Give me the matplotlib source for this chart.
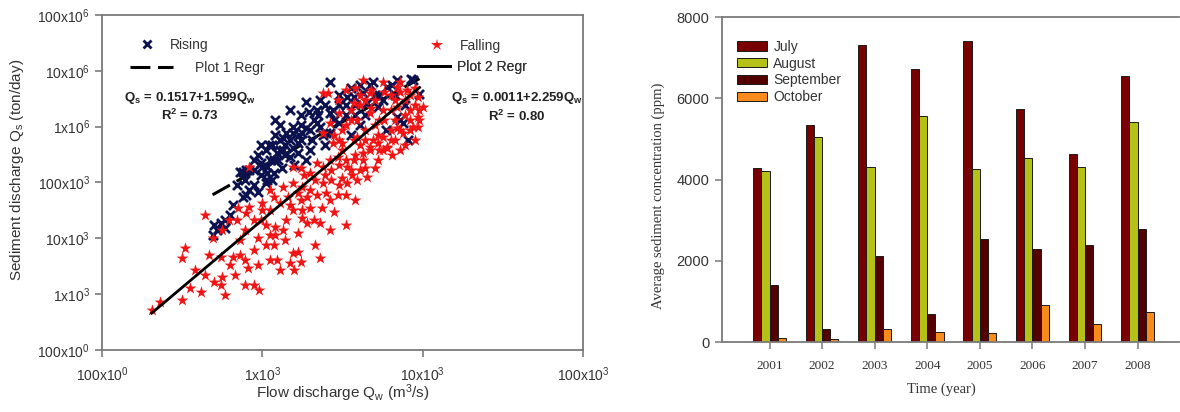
"""Sediment rating curve (rising vs falling limb) and monthly sediment concentration bars."""
import numpy as np
import matplotlib

matplotlib.use("Agg")
import matplotlib.pyplot as plt
from matplotlib.lines import Line2D

plt.rcParams.update({
    "font.family": "Liberation Sans",
    "mathtext.fontset": "custom",
    "mathtext.rm": "Liberation Sans",
    "mathtext.it": "Liberation Sans:italic",
    "mathtext.bf": "Liberation Sans:bold",
})

# --- left panel: log10 of flow discharge (m3/s) and sediment discharge (ton/day) ---
rising_logq = [2.70, 2.69, 2.74, 2.77, 2.88, 2.92, 2.90, 2.86, 2.90, 2.99, 3.03, 3.05, 3.07, 3.03,
               3.02, 3.09, 3.13, 3.17, 3.22, 3.25, 3.30, 3.19, 3.38, 3.42, 3.42, 3.27, 3.69, 3.94,
               3.78, 3.19, 3.32, 3.44, 3.57, 3.65, 3.86, 3.15, 3.24, 3.34, 3.42, 3.53, 3.63, 3.22,
               3.11, 3.07, 3.00, 2.92, 2.88, 3.03, 3.48, 3.40, 3.34, 3.72, 3.84, 3.88, 3.81, 3.93,
               3.11, 3.14, 3.17, 3.24, 3.30, 3.36, 3.11, 3.08, 3.04, 2.97, 2.95, 2.99, 3.06, 3.12,
               3.20, 3.27, 3.52, 3.58, 3.61, 3.55, 3.70, 3.75, 3.83, 3.89, 3.77, 3.91, 2.82, 2.84,
               2.95, 3.36, 3.48, 3.61, 3.98,
               3.02, 3.06, 3.10, 3.14, 3.19, 3.23, 3.27, 3.31, 3.35, 3.39, 3.45, 3.52, 3.58, 3.39,
               3.24, 3.17, 3.13, 2.99, 2.95, 3.08, 3.29, 3.48, 3.64, 3.73, 3.84, 3.67, 3.55, 2.80,
               2.77, 2.72, 2.97, 2.89]
rising_logs = [4.24, 4.06, 4.28, 4.19, 4.74, 4.87, 4.78, 5.19, 5.23, 5.35, 5.28, 5.41, 5.17, 5.05,
               4.99, 5.53, 5.58, 5.46, 5.71, 5.89, 5.58, 5.89, 5.85, 5.89, 6.80, 6.44, 6.80, 6.84,
               6.71, 6.00, 6.12, 6.30, 6.53, 6.43, 6.12, 5.89, 5.76, 6.30, 6.25, 6.53, 6.61, 5.53,
               5.58, 5.41, 5.28, 5.23, 5.19, 5.17, 6.07, 5.89, 6.07, 6.35, 6.18, 6.07, 6.75, 6.86,
               5.76, 5.68, 5.76, 6.03, 5.94, 6.00, 6.03, 5.85, 5.67, 5.50, 5.41, 5.14, 5.05, 5.26,
               5.32, 5.41, 6.39, 6.21, 6.03, 5.85, 6.57, 6.48, 6.57, 6.39, 5.94, 5.76, 4.60, 4.96,
               4.96, 6.48, 6.57, 6.75, 6.58,
               5.58, 5.67, 5.41, 5.50, 5.62, 5.85, 5.98, 5.76, 6.21, 6.39, 6.12, 6.21, 6.39, 5.67,
               6.21, 6.30, 5.80, 5.67, 5.23, 6.12, 6.26, 6.39, 6.21, 6.57, 6.84, 6.75, 6.70, 4.42,
               4.33, 4.15, 4.83, 5.05]

falling_logq = [2.31, 2.36, 2.50, 2.50, 2.52, 2.64, 2.62, 2.64, 2.70, 2.74, 2.75, 2.80, 2.82, 2.86,
                2.91, 2.97, 3.05, 3.09, 3.19, 3.22, 3.36, 2.74, 2.69, 2.75, 2.79, 2.84, 2.85, 2.92,
                2.97, 3.00, 3.07, 3.08, 3.08, 3.13, 3.22, 3.15, 3.19, 3.25, 3.28, 3.32, 3.36, 3.25,
                3.30, 3.37, 3.45, 3.11, 3.16, 3.22, 3.28, 3.34, 3.40, 3.47, 3.38, 3.43, 3.50, 3.53,
                3.59, 3.65, 3.56, 3.25, 3.19, 3.13, 3.07, 3.00, 2.99, 2.90, 3.34, 3.30, 3.38, 3.42,
                3.47, 3.53, 3.57, 3.63, 3.67, 3.72, 3.78, 3.75, 3.59, 3.50, 3.44, 3.19, 3.97, 4.00,
                3.97, 3.94, 3.78, 3.86, 3.92, 3.41, 3.47, 3.57, 3.67, 3.84, 3.90, 3.98, 3.97, 3.88,
                3.80, 3.69, 3.67, 3.57, 3.50, 3.59, 3.67, 3.75, 3.84, 3.48, 3.42, 3.38, 3.50, 3.63,
                3.75, 3.38, 3.63, 3.75, 3.86, 3.55, 3.61, 3.70, 3.80, 3.89, 3.83, 3.73, 3.64, 3.70,
                3.80, 3.92, 3.95, 3.52, 3.58, 3.48, 3.61, 3.83, 3.89, 3.81, 3.72, 3.64, 3.55, 3.48,
                2.95, 2.89, 2.98, 3.17, 3.24, 3.20, 3.14, 3.05, 3.02, 2.89, 2.95, 3.42, 3.52, 3.24,
                2.55, 2.92, 3.05,
                3.61, 3.68, 3.76, 3.86, 3.92, 3.83, 3.89, 3.95, 3.98, 3.92, 3.84, 3.76, 3.68, 3.64,
                3.55, 3.52, 3.45, 3.64, 3.72, 3.80, 3.86, 3.95, 3.73, 3.58, 3.52, 3.61, 3.70, 3.43,
                3.39, 3.33, 3.26, 3.24, 3.48, 3.30, 3.17, 3.05, 2.95, 3.02, 2.86, 2.83, 2.89, 2.67,
                2.58, 3.33, 3.42, 3.52, 3.58, 3.11, 2.77]
falling_logs = [2.72, 2.86, 2.90, 3.65, 3.83, 4.42, 3.04, 3.34, 3.22, 3.16, 3.31, 3.52, 3.67, 3.70,
                3.47, 3.52, 3.61, 3.61, 3.74, 3.76, 3.65, 3.67, 4.01, 4.15, 4.33, 4.33, 4.54, 4.56,
                4.01, 4.63, 3.88, 4.06, 4.20, 4.15, 4.10, 4.33, 4.51, 4.37, 4.28, 4.33, 4.28, 4.51,
                4.54, 4.54, 4.47, 4.63, 4.74, 4.81, 4.74, 4.78, 4.81, 4.78, 4.99, 5.05, 5.08, 4.99,
                5.05, 5.10, 5.14, 4.92, 4.99, 4.92, 4.74, 4.51, 4.33, 4.46, 5.35, 5.17, 5.28, 5.41,
                5.46, 5.28, 5.41, 5.53, 5.64, 5.71, 5.64, 5.82, 5.82, 5.71, 5.71, 5.28, 6.53, 6.35,
                6.18, 6.00, 5.62, 5.94, 6.12, 6.61, 6.48, 6.43, 6.61, 6.71, 6.66, 6.30, 6.00, 5.89,
                5.94, 5.76, 5.58, 5.76, 5.94, 6.12, 6.25, 6.30, 6.35, 6.25, 6.07, 5.89, 5.58, 5.41,
                5.58, 6.61, 6.84, 6.80, 6.80, 6.12, 6.39, 6.48, 6.57, 6.48, 6.12, 6.12, 5.94, 6.03,
                6.30, 6.30, 6.70, 6.66, 6.70, 5.76, 5.68, 5.76, 5.67, 5.50, 5.41, 5.26, 5.23, 5.32,
                3.16, 3.16, 3.08, 3.56, 3.58, 3.43, 3.97, 4.06, 4.24, 4.15, 4.33, 4.69, 4.78, 4.69,
                3.11, 5.28, 4.87,
                6.57, 6.66, 6.62, 6.62, 6.57, 6.48, 6.21, 6.39, 6.12, 5.94, 5.98, 6.12, 6.34, 6.48,
                6.30, 6.03, 5.85, 5.76, 5.85, 5.76, 5.58, 5.76, 5.58, 5.50, 5.41, 5.23, 5.26, 5.23,
                5.14, 5.05, 5.14, 5.26, 4.96, 4.87, 4.60, 4.51, 3.79, 3.88, 3.97, 3.34, 3.61, 3.70,
                3.43, 3.88, 4.15, 4.24, 4.69, 3.43, 2.99]

# regression lines (end points, log10 units)
reg1_logq, reg1_logs = [2.69, 3.98], [4.78, 6.86]
reg2_logq, reg2_logs = [2.31, 3.98], [2.66, 6.70]

x_ticks = [1e2, 1e3, 1e4, 1e5]
x_ticklabels = ["100x10$^0$", "1x10$^3$", "10x10$^3$", "100x10$^3$"]
y_ticks = [1e2, 1e3, 1e4, 1e5, 1e6, 1e7, 1e8]
y_ticklabels = ["100x10$^0$", "1x10$^3$", "10x10$^3$", "100x10$^3$", "1x10$^6$", "10x10$^6$",
                "100x10$^6$"]

# --- right panel: average sediment concentration (ppm) ---
years = [2001, 2002, 2003, 2004, 2005, 2006, 2007, 2008]
months = ["July", "August", "September", "October"]
july = [4280, 5330, 7300, 6720, 7410, 5730, 4630, 6560]
august = [4200, 5045, 4320, 5560, 4265, 4540, 4305, 5415]
september = [1395, 330, 2125, 695, 2525, 2300, 2380, 2790]
october = [110, 75, 320, 240, 220, 900, 450, 740]

NAVY = "#0c1250"
RED = "#f21414"
SPINE = "#7a7a7a"
TXT = "#333333"
BAR_COLORS = ["#780000", "#b6c118", "#540000", "#f98a1c"]

fig = plt.figure(figsize=(11.8, 4.12), dpi=100)

# ================= left: rating curve =================
ax = fig.add_axes([0.0864, 0.1505, 0.4077, 0.8131])
ax.set_xscale("log")
ax.set_yscale("log")

ax.plot(10 ** np.array(reg1_logq), 10 ** np.array(reg1_logs), color="black", lw=2.2,
        linestyle=(0, (6.5, 2.5)), zorder=1)
ax.scatter(10 ** np.array(rising_logq), 10 ** np.array(rising_logs), marker="x", s=42,
           linewidths=2.0, color=NAVY, zorder=2)
ax.scatter(10 ** np.array(falling_logq), 10 ** np.array(falling_logs), marker="*", s=80,
           linewidths=0, color=RED, zorder=3)
ax.plot(10 ** np.array(reg2_logq), 10 ** np.array(reg2_logs), color="black", lw=2.0, zorder=4)

ax.set_xlim(1e2, 1e5)
ax.set_ylim(1e2, 1e8)
ax.set_xticks(x_ticks)
ax.set_xticklabels(x_ticklabels)
ax.set_yticks(y_ticks)
ax.set_yticklabels(y_ticklabels)
ax.minorticks_off()
ax.tick_params(axis="both", length=5, width=1.2, color=SPINE, labelsize=10, labelcolor=TXT)
ax.tick_params(axis="x", pad=6)
ax.tick_params(axis="y", pad=3.5)
for sp in ax.spines.values():
    sp.set_color(SPINE)
    sp.set_linewidth(1.3)

ax.set_xlabel("Flow discharge Q$_\\mathrm{w}$ (m$^\\mathrm{3}$/s)", fontsize=11, color=TXT)
ax.set_ylabel("Sediment discharge Q$_\\mathrm{s}$ (ton/day)", fontsize=11, color=TXT)
ax.xaxis.set_label_coords(0.5, -0.098)
ax.yaxis.set_label_coords(-0.158, 0.537)

# four single-entry legends, placed where the original puts them
legend_items = [
    (Line2D([], [], marker="x", ls="none", color=NAVY, ms=6, mew=2.0), "Rising", 1.5, 0.9, 0.072, 0.910),
    (Line2D([], [], color="black", lw=2.2, ls=(0, (6.5, 2.5))), "Plot 1 Regr", 3.1, 1.6, 0.058, 0.842),
    (Line2D([], [], marker="*", ls="none", color=RED, ms=9, mew=0), "Falling", 1.5, 0.9, 0.675, 0.907),
    (Line2D([], [], color="black", lw=2.0), "Plot 2 Regr", 2.3, 0.5, 0.657, 0.845),
]
for handle, label, hlen, hpad, bx, by in legend_items:
    leg = ax.legend([handle], [label], loc="center left", bbox_to_anchor=(bx, by),
                    bbox_transform=ax.transAxes, frameon=False, fontsize=10, borderpad=0,
                    borderaxespad=0, handlelength=hlen, handletextpad=hpad)
    for t in leg.get_texts():
        t.set_color(TXT)
    ax.add_artist(leg)

eq_kw = dict(transform=ax.transAxes, ha="center", va="center", fontsize=9.5,
             fontweight="bold", color="#222222")
ax.text(0.183, 0.752, "Q$_\\mathbf{s}$ = 0.1517+1.599Q$_\\mathbf{w}$", **eq_kw)
ax.text(0.183, 0.699, "R$^\\mathbf{2}$ = 0.73", **eq_kw)
ax.text(0.863, 0.752, "Q$_\\mathbf{s}$ = 0.0011+2.259Q$_\\mathbf{w}$", **eq_kw)
ax.text(0.863, 0.696, "R$^\\mathbf{2}$ = 0.80", **eq_kw)

# ================= right: grouped bars =================
bx_ax = fig.add_axes([0.6119, 0.1699, 0.3873, 0.7888])
x = np.array(years, dtype=float)
w = 0.156
for i, (vals, col, name) in enumerate(zip([july, august, september, october], BAR_COLORS, months)):
    bx_ax.bar(x + (i - 1.5) * w, vals, width=w, color=col, edgecolor="#1a1a1a", linewidth=0.7,
              label=name)

bx_ax.set_xlim(2000.097, 2008.79)
bx_ax.set_ylim(0, 8000)
bx_ax.set_xticks(years)
bx_ax.set_xticklabels([str(y) for y in years], fontfamily="Liberation Serif", fontsize=9.5)
bx_ax.set_yticks([0, 2000, 4000, 6000, 8000])
bx_ax.tick_params(axis="both", length=5, width=1.1, color=SPINE, labelcolor=TXT)
bx_ax.tick_params(axis="y", labelsize=10.5, pad=4)
bx_ax.tick_params(axis="x", pad=8)
for sp in bx_ax.spines.values():
    sp.set_color(SPINE)
    sp.set_linewidth(1.3)
bx_ax.spines["right"].set_visible(False)

bx_ax.set_xlabel("Time (year)", fontfamily="Liberation Serif", fontsize=10.5, color=TXT)
bx_ax.set_ylabel("Average sediment concentration (ppm)", fontfamily="Liberation Serif",
                 fontsize=10.5, color=TXT)
bx_ax.xaxis.set_label_coords(0.481, -0.126)
bx_ax.yaxis.set_label_coords(-0.125, 0.449)

leg = bx_ax.legend(loc="upper left", bbox_to_anchor=(0.033, 0.93), frameon=False, fontsize=10,
                   borderpad=0, borderaxespad=0, handlelength=2.16, handleheight=0.65,
                   handletextpad=0.45, labelspacing=0.2)
for t in leg.get_texts():
    t.set_color(TXT)

fig.savefig("out.png", dpi=100)
